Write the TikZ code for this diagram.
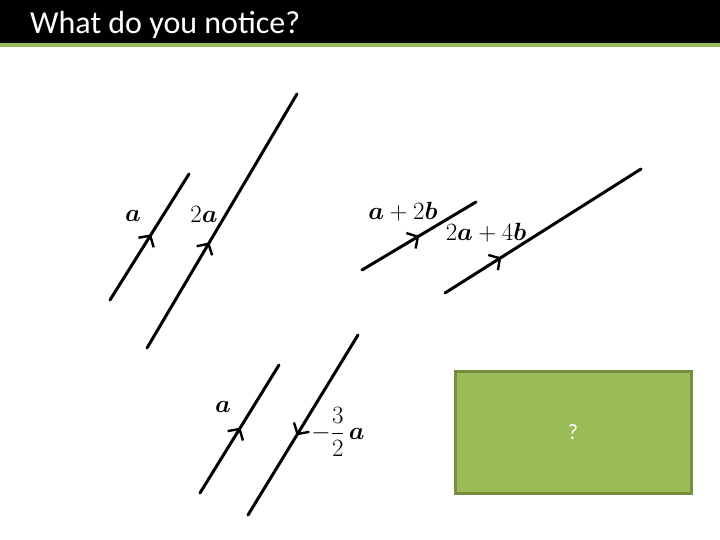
\documentclass[tikz,border=0pt]{standalone}
\usepackage{amsmath}
\usepackage{fontspec}
\newfontfamily\slidefont{Carlito}
\usetikzlibrary{decorations.markings}
\definecolor{slidegreen}{RGB}{155,187,89}
\definecolor{boxedge}{RGB}{118,142,62}
\tikzset{
  vec/.style={line width=3pt, line cap=round, decoration={markings,
      mark=at position #1 with {\draw[line width=2.4pt, line cap=butt, line join=miter]
        (-8pt,9pt) -- (0pt,0pt) -- (-8pt,-9pt);}},
      postaction={decorate}},
  vec/.default=0.5,
  lbl/.style={font=\fontsize{25}{30}\selectfont}
}
\begin{document}
\begin{tikzpicture}[x=1pt, y=-1pt]
  \useasboundingbox (0,0) rectangle (720,540);
  % header
  \fill[black] (0,0) rectangle (720,43);
  \fill[slidegreen] (0,43) rectangle (720,47);
  \node (title) [anchor=base west, white, inner sep=0, font=\slidefont\fontsize{32}{36}\selectfont] at (30,34) {What do you notice?};

  % a and 2a
  \coordinate (p1) at (110,300); \coordinate (q1) at (189,174);
  \coordinate (p2) at (147,348); \coordinate (q2) at (297,94);
  \draw[vec=0.51] (p1) -- (q1);
  \draw[vec=0.41] (p2) -- (q2);
  \node (la1) [lbl] at (133,216) {$\boldsymbol{a}$};
  \node (la2) [lbl] at (204,214) {$2\boldsymbol{a}$};

  % a+2b and 2a+4b
  \coordinate (p3) at (362,270); \coordinate (q3) at (476,202);
  \coordinate (p4) at (445,293); \coordinate (q4) at (641,169);
  \draw[vec=0.49] (p3) -- (q3);
  \draw[vec=0.28] (p4) -- (q4);
  \node (la3) [lbl] at (403,212) {$\boldsymbol{a}+2\boldsymbol{b}$};
  \node (la4) [lbl] at (486,233) {$2\boldsymbol{a}+4\boldsymbol{b}$};

  % a and -3/2 a
  \coordinate (p5) at (200,493); \coordinate (q5) at (279,365);
  \coordinate (p6) at (358,335); \coordinate (q6) at (248,515);
  \draw[vec=0.5] (p5) -- (q5);
  \draw[vec=0.55] (p6) -- (q6);
  \node (la5) [lbl] at (223,407) {$\boldsymbol{a}$};
  \node (la6) [lbl] at (338,432) {$-\dfrac{3}{2}\,\boldsymbol{a}$};

  % question box
  \node (ask) [fill=slidegreen, draw=boxedge, line width=3pt, minimum width=236pt, minimum height=122pt,
    text=white, font=\slidefont\fontsize{22}{26}\selectfont] at (573,432) {?};
\end{tikzpicture}
\end{document}
